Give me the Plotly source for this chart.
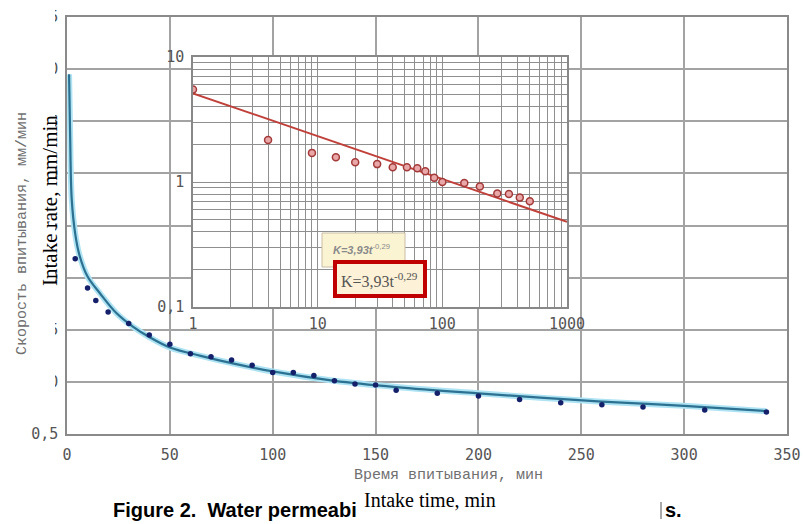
import plotly.graph_objects as go

# ---- data ----
# main chart (linear): fitted curve and measured points
curve_t = [1, 1.5, 2.3, 4, 6, 10, 16, 24, 32, 40, 50, 65, 80, 100, 130, 160, 200, 260, 300, 340]
curve_v = [3.95, 3.39, 2.75, 2.42, 2.22, 2.01, 1.85, 1.66, 1.53, 1.43, 1.33, 1.25, 1.18, 1.10, 1.01, 0.95, 0.89, 0.81, 0.77, 0.72]

pts_t = [4, 10, 14, 20, 30, 40, 50, 60, 70, 80, 90, 100, 110, 120, 130, 140, 150, 160, 180, 200, 220, 240, 260, 280, 310, 340]
pts_v = [2.18, 1.90, 1.78, 1.67, 1.56, 1.45, 1.36, 1.27, 1.24, 1.21, 1.16, 1.09, 1.09, 1.06, 1.01, 0.98, 0.97, 0.92, 0.89, 0.865, 0.83, 0.80, 0.78, 0.76, 0.73, 0.71]

# inset (log-log)
inset_t = [1, 4, 9, 14, 20, 30, 40, 52, 63, 73, 86, 100, 150, 200, 276, 342, 418, 503]
inset_v = [5.5, 2.17, 1.71, 1.58, 1.44, 1.39, 1.31, 1.31, 1.29, 1.22, 1.08, 1.0, 0.98, 0.92, 0.81, 0.80, 0.75, 0.70]
fit_t = [1, 1000]
fit_v = [5.12, 0.48]

x_ticks = [0, 50, 100, 150, 200, 250, 300, 350]
y_ticks = [0.5, 1.0, 1.5, 2.0, 2.5, 3.0, 3.5, 4.0, 4.5]
y_ticktext = ["0,5", "1,0", "1,5", "2,0", "2,5", "3,0", "3,5", "4,0", "4,5"]
inset_x_labels = {1: "1", 10: "10", 100: "100", 1000: "1000"}
inset_y_labels = {0.1: "0,1", 1: "1", 10: "10"}

# ---- layout geometry ----
W, H = 803, 524
L, R, T, B = 67, 16, 17, 90
PW, PH = W - L - R, H - T - B


def px(x):
    return (x - L) / PW


def py(y):
    return (H - B - y) / PH


tick_font = dict(family="DejaVu Sans Mono", size=15, color="#555555")
grid_main = "#a3a3a3"
grid_inset = "#8f8f8f"

fig = go.Figure()

# main curve with light halo
fig.add_trace(go.Scatter(x=curve_t, y=curve_v, mode="lines", line=dict(color="#aee3f3", width=6, shape="spline"),
                         hoverinfo="skip", showlegend=False))
fig.add_trace(go.Scatter(x=curve_t, y=curve_v, mode="lines", line=dict(color="#2c7191", width=2.2, shape="spline"),
                         showlegend=False))
fig.add_trace(go.Scatter(x=pts_t, y=pts_v, mode="markers", marker=dict(color="#15206b", size=5.5),
                         showlegend=False))

# inset
fig.add_trace(go.Scatter(x=fit_t, y=fit_v, mode="lines", line=dict(color="#c0403a", width=2),
                         xaxis="x2", yaxis="y2", showlegend=False))
fig.add_trace(go.Scatter(x=inset_t, y=inset_v, mode="markers",
                         marker=dict(color="#e9a7a7", size=7, line=dict(color="#a33a3a", width=1.5)),
                         xaxis="x2", yaxis="y2", showlegend=False))

inset_x_vals = [m * 10 ** e for e in range(0, 3) for m in range(1, 10)] + [1000]
inset_y_vals = [round(m * 10 ** e, 3) for e in range(-1, 1) for m in range(1, 10)] + [10]

fig.update_layout(
    template="none",
    width=W, height=H,
    margin=dict(l=L, r=R, t=T, b=B, autoexpand=False),
    paper_bgcolor="white", plot_bgcolor="white",
    xaxis=dict(range=[0, 350], tickvals=x_ticks, showgrid=True, gridcolor=grid_main, gridwidth=1.5,
               showline=True, mirror=True, linecolor="#8a8a8a", linewidth=1.5, zeroline=False,
               tickfont=tick_font, ticks="", ticklabelstandoff=6, automargin=False),
    yaxis=dict(range=[0.5, 4.5], tickvals=y_ticks, ticktext=y_ticktext, showgrid=True, gridcolor=grid_main,
               gridwidth=1.5, showline=True, mirror=True, linecolor="#8a8a8a", linewidth=1.5, zeroline=False,
               tickfont=tick_font, ticks="", ticklabelstandoff=4, automargin=False),
    xaxis2=dict(type="log", range=[0, 3], domain=[px(193), px(567)], anchor="y2",
                tickvals=inset_x_vals, ticktext=[inset_x_labels.get(v, "") for v in inset_x_vals],
                showgrid=True, gridcolor=grid_inset, gridwidth=1, showline=True, mirror=True,
                linecolor="#888888", linewidth=1.5, zeroline=False, tickfont=tick_font, ticks="",
                ticklabelstandoff=2, automargin=False),
    yaxis2=dict(type="log", range=[-1, 1], domain=[py(307), py(57)], anchor="x2",
                tickvals=inset_y_vals, ticktext=[inset_y_labels.get(v, "") for v in inset_y_vals],
                showgrid=True, gridcolor=grid_inset, gridwidth=1, showline=True, mirror=True,
                linecolor="#888888", linewidth=1.5, zeroline=False, tickfont=tick_font, ticks="",
                ticklabelstandoff=4, automargin=False),
)

shapes = [
    # white patch of the overlaid English axis title (hides part of the y tick labels)
    dict(type="rect", xref="paper", yref="paper", x0=px(29), x1=px(55), y0=py(395), y1=py(6),
         fillcolor="white", line=dict(width=0), layer="above"),
    # small yellow equation box
    dict(type="rect", xref="paper", yref="paper", x0=px(322), x1=px(405), y0=py(267), y1=py(233),
         fillcolor="#fbf4d3", line=dict(color="#c9bca6", width=1), layer="above"),
    # red framed equation box
    dict(type="rect", xref="paper", yref="paper", x0=px(335), x1=px(425), y0=py(296), y1=py(262),
         fillcolor="#fdf1d7", line=dict(color="#c00000", width=4), layer="above"),
    # thin edge before "s."
    dict(type="line", xref="paper", yref="paper", x0=px(661), x1=px(661), y0=py(519), y1=py(502),
         line=dict(color="#555555", width=1), layer="above"),
]
fig.update_layout(shapes=shapes)

ann = [
    dict(text="Скорость впитывания, мм/мин", x=px(22), y=py(234), textangle=-90,
         font=dict(family="Liberation Mono", size=15, color="#707070")),
    dict(text="Intake rate, mm/min", x=px(50), y=py(201), textangle=-90,
         font=dict(family="Liberation Serif", size=21, color="#000000")),
    dict(text="Время впитывания, мин", x=px(448), y=py(475),
         font=dict(family="Liberation Mono", size=15, color="#707070")),
    dict(text="Intake time, min", x=px(430), y=py(500),
         font=dict(family="Liberation Serif", size=20, color="#000000")),
    dict(text="<b>Figure 2.  Water permeabi</b>", x=px(111), y=py(510), xanchor="left",
         font=dict(family="Liberation Sans", size=20, color="#000000")),
    dict(text="<b>s.</b>", x=px(663), y=py(510), xanchor="left",
         font=dict(family="Liberation Sans", size=20, color="#000000")),
    dict(text="<b><i>K=3,93t</i></b><sup>-0,29</sup>", x=px(361), y=py(249),
         font=dict(family="Liberation Sans", size=11, color="#8a8a8a")),
    dict(text="K=3,93t<sup>-0,29</sup>", x=px(379), y=py(280),
         font=dict(family="Liberation Serif", size=16, color="#555555")),
]
for a in ann:
    a.update(xref="paper", yref="paper", showarrow=False)
    a.setdefault("xanchor", "center")
    a.setdefault("yanchor", "middle")
fig.update_layout(annotations=ann)

fig.write_html("out.html", config={"displayModeBar": False},
               post_script="document.body.style.margin='0px';")
